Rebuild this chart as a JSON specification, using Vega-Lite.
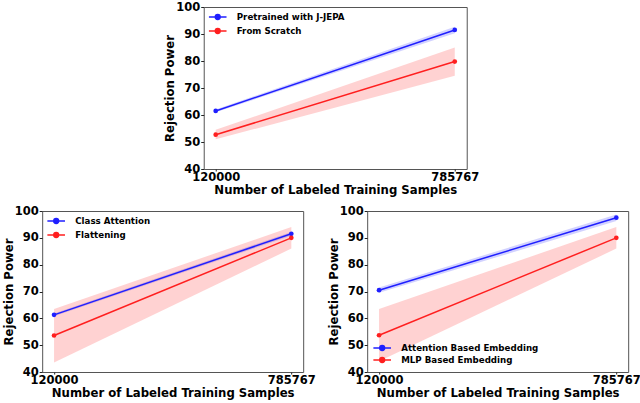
{
  "$schema": "https://vega.github.io/schema/vega-lite/v6.json",
  "padding": {"left": 2, "top": 0, "right": 0, "bottom": 0},
  "background": "white",
  "datasets": {
    "top": [
      {"series": "Pretrained with J-JEPA", "n": 120000, "v": 61.5, "lo": 61.0, "hi": 62.0},
      {"series": "Pretrained with J-JEPA", "n": 785767, "v": 91.5, "lo": 90.3, "hi": 92.7},
      {"series": "From Scratch", "n": 120000, "v": 52.7, "lo": 51.0, "hi": 54.5},
      {"series": "From Scratch", "n": 785767, "v": 79.8, "lo": 74.5, "hi": 85.0}
    ],
    "left": [
      {"series": "Class Attention", "n": 120000, "v": 61.3, "lo": 60.8, "hi": 61.8},
      {"series": "Class Attention", "n": 785767, "v": 91.5, "lo": 90.8, "hi": 92.2},
      {"series": "Flattening", "n": 120000, "v": 53.6, "lo": 43.5, "hi": 63.5},
      {"series": "Flattening", "n": 785767, "v": 90.0, "lo": 86.0, "hi": 94.0}
    ],
    "right": [
      {"series": "Attention Based Embedding", "n": 120000, "v": 70.5, "lo": 69.5, "hi": 71.5},
      {"series": "Attention Based Embedding", "n": 785767, "v": 97.5, "lo": 96.3, "hi": 98.7},
      {"series": "MLP Based Embedding", "n": 120000, "v": 53.7, "lo": 44.0, "hi": 63.5},
      {"series": "MLP Based Embedding", "n": 785767, "v": 90.0, "lo": 86.0, "hi": 94.0}
    ]
  },
  "vconcat": [
    {
      "width": 263, "height": 162,
      "data": {"name": "top"},
      "encoding": {
        "x": {"field": "n", "type": "quantitative", "scale": {"domain": [86712, 819055], "nice": false, "zero": false}, "axis": {"values": [120000, 785767], "format": "d", "title": "Number of Labeled Training Samples"}},
        "y": {"field": "v", "type": "quantitative", "scale": {"domain": [40, 100], "nice": false, "zero": false}, "title": "Rejection Power", "axis": {"values": [40, 50, 60, 70, 80, 90, 100]}}
      },
      "layer": [
        {"transform": [{"filter": "datum.series === 'Pretrained with J-JEPA'"}], "mark": {"type": "area", "opacity": 0.2, "color": "#1f1fff"}, "encoding": {"y": {"field": "lo", "type": "quantitative", "title": "Rejection Power", "axis": {"values": [40, 50, 60, 70, 80, 90, 100]}}, "y2": {"field": "hi"}}},
        {"transform": [{"filter": "datum.series === 'From Scratch'"}], "mark": {"type": "area", "opacity": 0.2, "color": "#ff1f1f"}, "encoding": {"y": {"field": "lo", "type": "quantitative", "title": "Rejection Power", "axis": {"values": [40, 50, 60, 70, 80, 90, 100]}}, "y2": {"field": "hi"}}},
        {"mark": {"type": "line", "strokeWidth": 1.5, "point": {"filled": true, "size": 22, "opacity": 1}}, "encoding": {"color": {"field": "series", "type": "nominal", "scale": {"domain": ["Pretrained with J-JEPA", "From Scratch"], "range": ["#1f1fff", "#ff1f1f"]}, "legend": {"orient": "top-left", "title": null, "offset": 2}}}}
      ]
    },
    {
      "hconcat": [
        {
          "width": 261, "height": 161,
          "data": {"name": "left"},
          "encoding": {
            "x": {"field": "n", "type": "quantitative", "scale": {"domain": [86712, 819055], "nice": false, "zero": false}, "axis": {"values": [120000, 785767], "format": "d", "title": "Number of Labeled Training Samples"}},
            "y": {"field": "v", "type": "quantitative", "scale": {"domain": [40, 100], "nice": false, "zero": false}, "title": "Rejection Power", "axis": {"values": [40, 50, 60, 70, 80, 90, 100]}}
          },
          "layer": [
            {"transform": [{"filter": "datum.series === 'Class Attention'"}], "mark": {"type": "area", "opacity": 0.2, "color": "#1f1fff"}, "encoding": {"y": {"field": "lo", "type": "quantitative", "title": "Rejection Power", "axis": {"values": [40, 50, 60, 70, 80, 90, 100]}}, "y2": {"field": "hi"}}},
            {"transform": [{"filter": "datum.series === 'Flattening'"}], "mark": {"type": "area", "opacity": 0.2, "color": "#ff1f1f"}, "encoding": {"y": {"field": "lo", "type": "quantitative", "title": "Rejection Power", "axis": {"values": [40, 50, 60, 70, 80, 90, 100]}}, "y2": {"field": "hi"}}},
            {"mark": {"type": "line", "strokeWidth": 1.5, "point": {"filled": true, "size": 22, "opacity": 1}}, "encoding": {"color": {"field": "series", "type": "nominal", "scale": {"domain": ["Class Attention", "Flattening"], "range": ["#1f1fff", "#ff1f1f"]}, "legend": {"orient": "top-left", "title": null, "offset": 2}}}}
          ]
        },
        {
          "width": 261, "height": 161,
          "data": {"name": "right"},
          "encoding": {
            "x": {"field": "n", "type": "quantitative", "scale": {"domain": [86712, 819055], "nice": false, "zero": false}, "axis": {"values": [120000, 785767], "format": "d", "title": "Number of Labeled Training Samples"}},
            "y": {"field": "v", "type": "quantitative", "scale": {"domain": [40, 100], "nice": false, "zero": false}, "title": "Rejection Power", "axis": {"values": [40, 50, 60, 70, 80, 90, 100]}}
          },
          "layer": [
            {"transform": [{"filter": "datum.series === 'Attention Based Embedding'"}], "mark": {"type": "area", "opacity": 0.2, "color": "#1f1fff"}, "encoding": {"y": {"field": "lo", "type": "quantitative", "title": "Rejection Power", "axis": {"values": [40, 50, 60, 70, 80, 90, 100]}}, "y2": {"field": "hi"}}},
            {"transform": [{"filter": "datum.series === 'MLP Based Embedding'"}], "mark": {"type": "area", "opacity": 0.2, "color": "#ff1f1f"}, "encoding": {"y": {"field": "lo", "type": "quantitative", "title": "Rejection Power", "axis": {"values": [40, 50, 60, 70, 80, 90, 100]}}, "y2": {"field": "hi"}}},
            {"mark": {"type": "line", "strokeWidth": 1.5, "point": {"filled": true, "size": 22, "opacity": 1}}, "encoding": {"color": {"field": "series", "type": "nominal", "scale": {"domain": ["Attention Based Embedding", "MLP Based Embedding"], "range": ["#1f1fff", "#ff1f1f"]}, "legend": {"orient": "bottom-left", "title": null, "offset": 3, "rowPadding": 0}}}}
          ]
        }
      ],
      "spacing": 11,
      "resolve": {"scale": {"color": "independent"}, "legend": {"color": "independent"}}
    }
  ],
  "spacing": 7,
  "center": true,
  "resolve": {"scale": {"color": "independent"}, "legend": {"color": "independent"}},
  "config": {
    "font": "DejaVu Sans",
    "view": {"stroke": "#555", "strokeWidth": 1},
    "axis": {"grid": false, "domain": false, "tickColor": "#222", "tickSize": 3, "labelFontSize": 11.5, "labelFontWeight": "bold", "labelColor": "black", "titleFontSize": 11.7, "titleFontWeight": "bold", "titleColor": "black", "labelOverlap": false, "labelFlush": false, "labelPadding": 1},
    "axisX": {"titlePadding": 2, "tickSize": 2, "labelPadding": 0},
    "axisY": {"titlePadding": 0},
    "legend": {"symbolType": "M-1.2,0L3.2,0M0.4,0A0.6,0.6 0 1,1 1.6,0A0.6,0.6 0 1,1 0.4,0", "symbolSize": 64, "symbolStrokeWidth": 1.5, "symbolOpacity": 1, "labelFontSize": 8.7, "labelFontWeight": "bold", "labelColor": "black", "rowPadding": 2, "padding": 3, "labelOffset": 18}
  }
}
